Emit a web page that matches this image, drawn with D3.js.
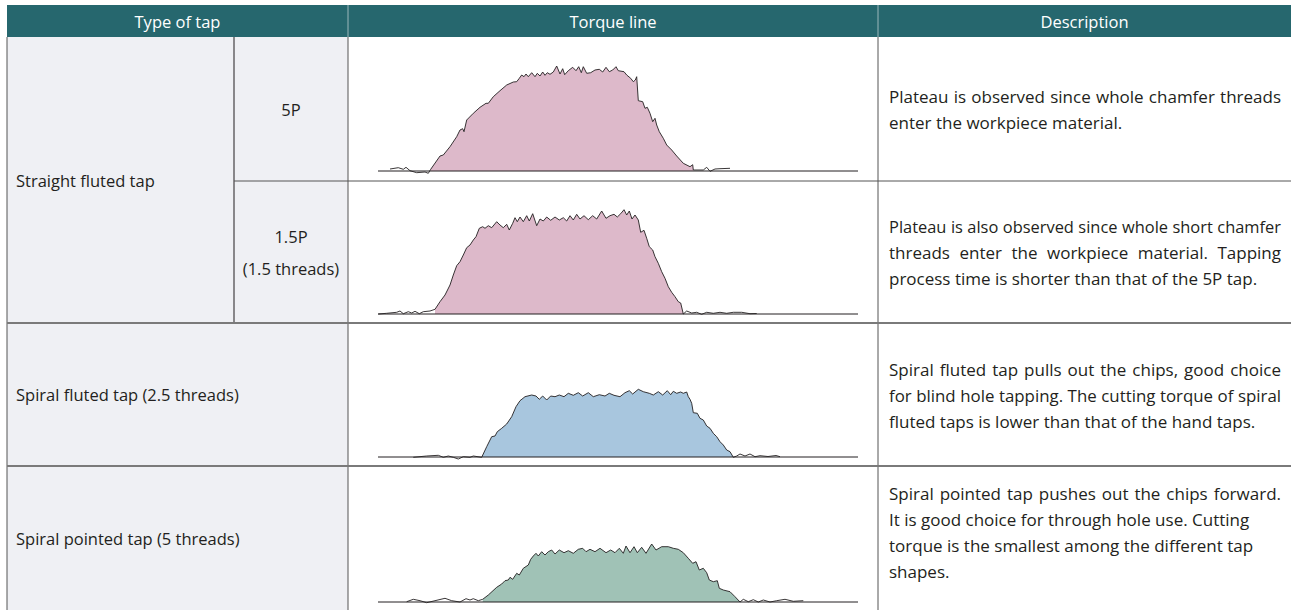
<!DOCTYPE html>
<html>
<head>
<meta charset="utf-8">
<script src="https://cdn.jsdelivr.net/npm/d3@7"></script>
<style>
  body { margin: 0; background: #fff; }
  svg text { font-family: "Open Sans", "Noto Sans", sans-serif; fill: #231f20; }
</style>
</head>
<body>
<svg id="table" width="1291" height="610"></svg>
<script>
const headers = ["Type of tap", "Torque line", "Description"];

const tapGroups = ["Straight fluted tap", "Spiral fluted tap (2.5 threads)", "Spiral pointed tap (5 threads)"];
const subTypes = [["5P"], ["1.5P", "(1.5 threads)"]];

// torque traces: [time, torque], arbitrary units
const torque5P = [
  [12, 2], [20.3, 3.3], [25.3, 1.7], [28, 3.7], [32, 0.3], [38.7, -1.7], [47, -1], [50.3, -2.3],
  [52.7, 1.7], [62, 15], [65.3, 16], [72, 24.3], [78.7, 34.3], [82, 41], [84.7, 42.3], [86, 39.3],
  [88.7, 51], [95.3, 57.7], [102, 63.7], [108, 67.7], [110.3, 67.7], [115.3, 74.3], [122, 80.3],
  [128.7, 86], [135.3, 89], [138.7, 89.3], [141.3, 92.7], [143.7, 96], [146, 94.3], [148, 97],
  [150.3, 94.3], [153.7, 98.3], [157, 94.3], [159.3, 97.7], [162, 95], [164.7, 99], [167, 95.7],
  [169.3, 98.3], [172, 96.7], [175.3, 99], [178.7, 105], [182, 97], [184.7, 102.3], [186.7, 96.3],
  [190.3, 100.3], [194.7, 103.7], [198, 100.3], [200.7, 104.3], [203.3, 98.3], [205.3, 104.3],
  [208.7, 97.7], [212.7, 98.3], [217, 101], [221.3, 101.7], [224.7, 99], [228, 103.7], [231.3, 99.3],
  [234.7, 101], [238, 104.3], [240.3, 100.3], [246, 99.3], [248.7, 96], [252.7, 92.7], [255.3, 89.3],
  [257.3, 91], [258.7, 94.3], [260.3, 70.3], [264.7, 69.3], [267, 62.7], [269.3, 63.7], [272, 57.7],
  [274.7, 49.3], [277, 52.7], [278.7, 46], [281.3, 39.3], [285.3, 32.7], [288.7, 26], [293.7, 21],
  [298.7, 15], [305.3, 7.7], [312, 4.3], [314.7, 6.3], [315.3, 1], [325.3, 1], [328.7, 3.7],
  [332, -0.3], [337, 2], [342, 2.3], [352, 2.7]
];

const torque15P = [
  [0.3, 0], [8.7, 0.7], [18.7, 1.7], [22, 3], [25.3, 0.3], [30.3, 2.3], [33.7, 1], [37, 2.7],
  [41.3, 0.3], [45.3, 2.3], [52, 3], [57, 4.7], [62, 12.3], [67, 19], [72, 29], [75.3, 39],
  [78.7, 48.3], [82, 52.3], [85.3, 59], [88.7, 66.3], [92, 69], [95.3, 74], [98, 77.3], [101.3, 85.7],
  [104.7, 87.3], [107, 85.7], [110.3, 88.3], [113.7, 86.3], [118.7, 92.3], [122, 89], [125.3, 86.3],
  [128.7, 89.7], [131.3, 84], [134.7, 90.7], [137, 96.3], [139.3, 92.3], [142, 97], [145.3, 92.3],
  [148.7, 98.3], [151.3, 93], [154.7, 100.3], [158.7, 88.3], [162, 95], [165.3, 93], [168.7, 97],
  [172.7, 93.7], [177, 97], [181.3, 94], [185.3, 96.3], [188.7, 93], [192, 98.3], [195.3, 94],
  [198.7, 99.7], [202, 95], [206, 98.3], [210.3, 94.3], [214.7, 98.3], [218.7, 95], [223.7, 103],
  [228, 95.7], [232, 98.3], [236, 99.7], [239.3, 97], [242.7, 100.3], [246, 104.3], [248.7, 99],
  [251.3, 103], [254, 95], [257, 99], [260.3, 94], [262.7, 81.7], [266, 83.7], [268.7, 75.7],
  [271.3, 67.3], [274.7, 64], [277, 57.3], [280.3, 50.7], [283.7, 42.3], [287, 35.7], [290.3, 27.3],
  [293.7, 21.7], [297, 17.3], [300.3, 12.3], [302.7, 11], [305.3, 0], [308.7, 3], [313.7, 1],
  [318.7, 1.7], [323.7, -0.3], [328.7, 1.7], [335.3, 0.7], [342, 1.7], [348.7, 0.7], [355.3, 1.7],
  [363.7, 1.7], [372, 0.3], [378.7, 0.5]
];

const torqueSpiralFluted = [
  [35.3, -0.3], [48.7, 1], [60.3, 1.7], [65.3, -0.3], [70.3, 1], [75.3, -0.3], [80.3, -2], [85.3, 0.3],
  [92, -0.3], [95.3, 1], [103.7, -0.3], [108.7, 10.3], [113.7, 20.3], [117, 21], [119.3, 25.3],
  [123.7, 28.7], [128.7, 33], [133.7, 40.3], [138, 50.3], [142, 56.3], [147, 60.3], [153.7, 62],
  [158, 61], [161.3, 57.7], [164.7, 61], [168.7, 57], [172.7, 61], [177, 60.3], [181.3, 62], [186, 60.3],
  [190.3, 63.7], [195.3, 61.7], [200.3, 64.3], [204.7, 61], [210.3, 64.3], [215.3, 60.3], [221.3, 62.3],
  [227, 61], [231.3, 63.7], [236, 61.7], [242, 60.3], [247, 64.3], [251.3, 66.3], [254.7, 63],
  [260.3, 67.7], [265.3, 65.3], [271.3, 63.7], [275.3, 62], [280.3, 65.3], [284.7, 62], [289.3, 66.3],
  [292.7, 62.3], [295.3, 65.7], [298.7, 63.7], [302.7, 65], [305.3, 63.7], [308.7, 65], [310.3, 60.3],
  [312, 57.7], [313.7, 53.7], [315.3, 44.3], [319.3, 43.7], [322, 38.7], [325.3, 37], [328.7, 31],
  [332, 28.7], [335.3, 23.7], [338.7, 20.3], [342, 15.3], [345.3, 12], [348.7, 7], [352, 5.3],
  [355.3, -0.3], [358.7, 1], [362, 3], [367, 1], [372, 3], [377, 0.3], [382, 1.3], [390, 0.5],
  [398, 1.5], [402, 0.3]
];

const torqueSpiralPointed = [
  [28.7, 0.3], [35.3, 2.7], [42, 1.3], [48.7, -0.7], [57, 1.3], [67, 3.7], [73.7, 1.3], [82, 0],
  [88, 3.3], [92, 2], [95.3, 3.3], [100.3, 1.3], [104.7, 2.7], [110.3, 7], [118.7, 14.7], [123.7, 18],
  [127, 21.3], [130.3, 22], [132, 24.7], [134.7, 22.7], [138.7, 28.7], [141.3, 27], [145.3, 33.7],
  [150.3, 37], [152.7, 42.7], [155.3, 46], [158, 48.7], [160.3, 46], [163.7, 50.3], [167, 47],
  [170.3, 50.3], [173.7, 52], [177, 48], [181.3, 52], [186, 49.3], [190.3, 51.3], [195.3, 48.7],
  [200.3, 52.7], [204.7, 53.7], [208, 50.3], [212, 52.7], [217, 50.3], [222, 53.7], [228, 49.3],
  [232.7, 52], [237, 49.3], [241.3, 53.7], [245.3, 48.7], [248, 56], [252, 49.3], [256, 55.3],
  [259.3, 49.3], [263.7, 54.7], [268, 48.7], [273.7, 58], [278, 52], [283.7, 55.3], [290.3, 55.3],
  [295.3, 53.7], [300.3, 52.7], [305.3, 49.3], [310.3, 43.7], [314.7, 38.7], [318, 40.3], [321.3, 32],
  [325.3, 33.7], [328.7, 29.3], [331.3, 22], [335.3, 20.3], [339.3, 21.3], [341.3, 13.7], [345.3, 12],
  [352, 10.3], [357, 5.3], [362, 0], [365.3, 2.7], [370.3, 0.3], [375.3, 2.3], [380.3, 0], [385.3, 2],
  [392, 0], [398.7, 1.3], [407, 2.7], [415.3, 0.7], [425.3, 1.3]
];

const traces = [torque5P, torque15P, torqueSpiralFluted, torqueSpiralPointed];
const traceColors = ["#ddb9ca", "#ddb9ca", "#a8c6de", "#a0c2b6"];

const descriptions = [
  ["Plateau is observed since whole chamfer threads", "enter the workpiece material."],
  ["Plateau is also observed since whole short chamfer", "threads enter the workpiece material. Tapping",
   "process time is shorter than that of the 5P tap."],
  ["Spiral fluted tap pulls out the chips, good choice", "for blind hole tapping. The cutting torque of spiral",
   "fluted taps is lower than that of the hand taps."],
  ["Spiral pointed tap pushes out the chips forward.", "It is good choice for through hole use. Cutting",
   "torque is the smallest among the different tap", "shapes."]
];
// how many leading lines of each paragraph are set justified
const justifiedLines = [1, 2, 2, 1];

// ---- layout ----
const svg = d3.select("#table");
const left = 7, subX = 234, col2 = 348, col3 = 878, right = 1291;
const headTop = 5, headBot = 37;
const rowEdges = [37, 181, 323, 466, 610];
const baselines = [171, 314, 457, 602];
const headerColor = "#26676e";
const labelSize = 16.5, descSize = 17;

// left column background
svg.append("rect")
  .attr("x", left).attr("y", headBot).attr("width", col2 - left).attr("height", 610 - headBot)
  .attr("fill", "#eff0f4");

// header
svg.append("rect")
  .attr("x", left).attr("y", headTop).attr("width", right - left).attr("height", headBot - headTop)
  .attr("fill", headerColor);
const headCols = [[left, col2], [col2, col3], [col3, right]];
svg.selectAll(".hsep").data([col2, col3]).enter().append("line")
  .attr("x1", d => d).attr("x2", d => d).attr("y1", headTop).attr("y2", headBot)
  .attr("stroke", "#9bb8bb").attr("stroke-width", 1);
svg.selectAll(".htext").data(headers).enter().append("text")
  .attr("x", (d, i) => (headCols[i][0] + headCols[i][1]) / 2)
  .attr("y", (headTop + headBot) / 2)
  .attr("text-anchor", "middle").attr("dominant-baseline", "central")
  .attr("font-size", labelSize).style("fill", "#fff")
  .text(d => d);

// torque charts
const x = d3.scaleLinear().domain([0, 480]).range([378, 858]);
const charts = svg.append("g");
traces.forEach((data, i) => {
  const y = d3.scaleLinear().domain([0, 100]).range([baselines[i], baselines[i] - 100]);
  const first = data.findIndex(d => d[1] > 5);
  const last = data.length - 1 - [...data].reverse().findIndex(d => d[1] > 5);
  const filled = data.slice(Math.max(first - 1, 0), Math.min(last + 2, data.length));
  const g = charts.append("g");
  g.append("path").datum(filled)
    .attr("fill", traceColors[i])
    .attr("d", d3.area().x(d => x(d[0])).y0(y(0)).y1(d => y(Math.max(d[1], 0))));
  g.append("line")
    .attr("x1", x(0)).attr("x2", x(480)).attr("y1", y(0)).attr("y2", y(0))
    .attr("stroke", "#231f20").attr("stroke-width", 1);
  g.append("path").datum(data)
    .attr("fill", "none").attr("stroke", "#231f20").attr("stroke-width", 0.9)
    .attr("stroke-linejoin", "round")
    .attr("d", d3.line().x(d => x(d[0])).y(d => y(d[1])));
});

// grid lines
const grid = svg.append("g");
grid.append("line").attr("x1", left).attr("x2", left).attr("y1", headBot).attr("y2", 610)
  .attr("stroke", "#555").attr("stroke-width", 1);
grid.append("line").attr("x1", subX).attr("x2", subX).attr("y1", headBot).attr("y2", rowEdges[2])
  .attr("stroke", "#231f20").attr("stroke-width", 1);
grid.selectAll(".vcol").data([col2, col3]).enter().append("line")
  .attr("x1", d => d).attr("x2", d => d).attr("y1", headBot).attr("y2", 610)
  .attr("stroke", "#555").attr("stroke-width", 1);
grid.append("line").attr("x1", subX).attr("x2", right).attr("y1", rowEdges[1]).attr("y2", rowEdges[1])
  .attr("stroke", "#555").attr("stroke-width", 1);
grid.selectAll(".hrow").data([rowEdges[2], rowEdges[3]]).enter().append("line")
  .attr("x1", left).attr("x2", right).attr("y1", d => d).attr("y2", d => d)
  .attr("stroke", "#7a7a7a").attr("stroke-width", 2);

// left column labels
const groupCentres = [(rowEdges[0] + rowEdges[2]) / 2, (rowEdges[2] + rowEdges[3]) / 2, 538];
svg.selectAll(".group").data(tapGroups).enter().append("text")
  .attr("x", 16).attr("y", (d, i) => groupCentres[i])
  .attr("dominant-baseline", "central").attr("font-size", labelSize)
  .text(d => d);

subTypes.forEach((lines, i) => {
  const cy = (rowEdges[i] + rowEdges[i + 1]) / 2;
  svg.append("g").selectAll("text").data(lines).enter().append("text")
    .attr("x", (subX + col2) / 2)
    .attr("y", (d, j) => cy + (j - (lines.length - 1) / 2) * 32)
    .attr("text-anchor", "middle").attr("dominant-baseline", "central")
    .attr("font-size", labelSize)
    .text(d => d);
});

// descriptions: long lines shrink to fit, justified lines get extra word spacing
const descCentres = [109, 252, 395, 532];
const lineH = 26;
const textX = 889, textW = 393;
descriptions.forEach((lines, i) => {
  svg.append("g").selectAll("text").data(lines).enter().append("text")
    .attr("x", textX)
    .attr("y", (d, j) => descCentres[i] + (j - (lines.length - 1) / 2) * lineH)
    .attr("dominant-baseline", "central")
    .attr("font-size", descSize)
    .text(d => d)
    .each(function (d, j) {
      let natural = this.getComputedTextLength();
      const sel = d3.select(this);
      if (natural > textW - 2) {
        sel.attr("font-size", descSize * (textW - 2) / natural);
        natural = this.getComputedTextLength();
      }
      if (j < justifiedLines[i]) {
        const gaps = d.split(" ").length - 1;
        sel.attr("word-spacing", Math.max(0, (textW - 1 - natural) / gaps));
      }
    });
});
</script>
</body>
</html>
